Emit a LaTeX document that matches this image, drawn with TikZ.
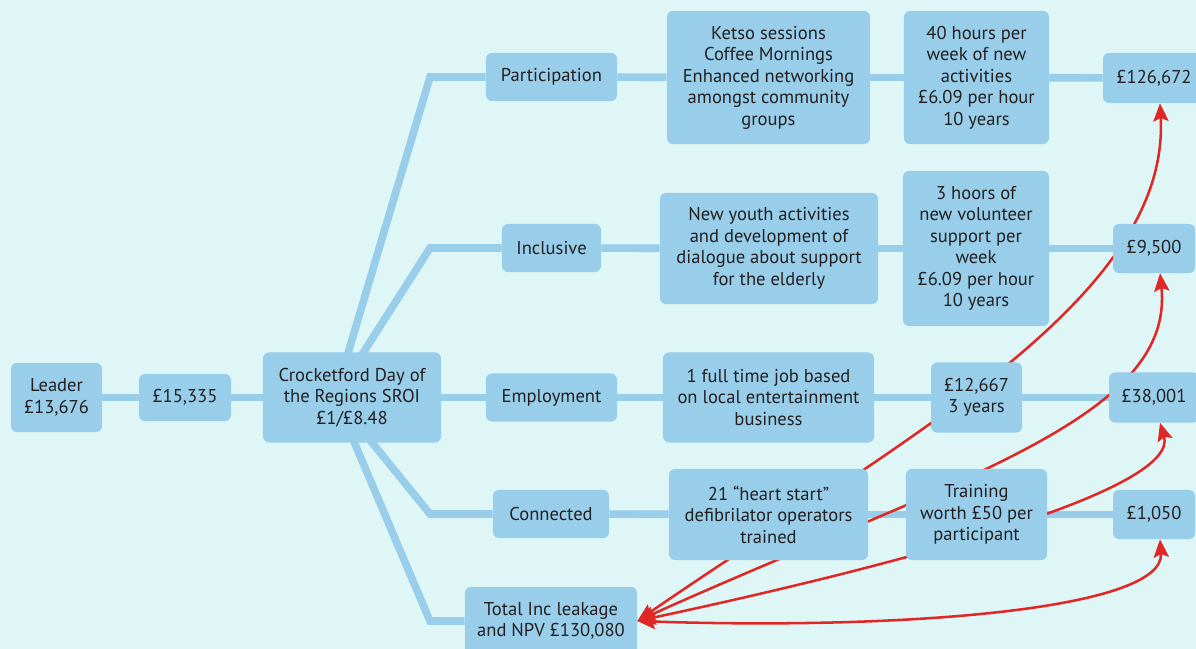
\documentclass[tikz,border=0pt]{standalone}
\usepackage{fontspec}
\setmainfont{PT Sans}
\usetikzlibrary{arrows.meta,backgrounds}
\definecolor{bgcyan}{HTML}{DFF6F6}
\definecolor{boxblue}{HTML}{98CEEA}
\definecolor{linkred}{HTML}{E12626}
\definecolor{inkdark}{HTML}{231F20}

\begin{document}
\begin{tikzpicture}[x=0.025cm,y=-0.025cm,
  box/.style={fill=boxblue,rounded corners=0.15cm,align=center,text=inkdark,inner sep=0pt,
    font=\fontsize{13.2}{15.3}\selectfont},
  link/.style={draw=boxblue,line width=0.19cm},
  ret/.style={draw=linkred,line width=1.8pt,
    {Stealth[length=0.45cm,width=0.38cm,inset=0.08cm]}-{Stealth[length=0.45cm,width=0.38cm,inset=0.08cm]}}]

  \useasboundingbox (0,0) rectangle (1196,649);
  \clip (0,0) rectangle (1196,649);

  % left chain
  \node[box,minimum width=2.275cm,minimum height=1.725cm] (lead) at (56.5,397.5) {Leader\\£13,676};
  \node[box,minimum width=2.3cm,minimum height=1.175cm] (fund) at (185,397.5) {£15,335};
  \node[box,minimum width=4.45cm,minimum height=2.25cm] (sroi) at (352,397.5) {Crocketford Day of\\the Regions SROI\\£1/£8.48};
  \coordinate (hub) at (335,397);
  \coordinate (bend) at (430,0);

  % outcomes
  \node[box,minimum width=3.275cm,minimum height=1.2cm] (part) at (551.5,77) {Participation};
  \node[box,minimum width=2.475cm,minimum height=1.2cm] (incl) at (551.5,248) {Inclusive};
  \node[box,minimum width=3.275cm,minimum height=1.2cm] (empl) at (551.5,397.5) {Employment};
  \node[box,minimum width=2.9cm,minimum height=1.2cm] (conn) at (551,514) {Connected};
  \node[box,minimum width=4.3cm,minimum height=1.7cm] (total) at (551,621) {Total Inc leakage\\and NPV £130,080};

  % activities
  \node[box,minimum width=5.075cm,minimum height=3.325cm] (ketso) at (768.5,77.5) {Ketso sessions\\Coffee Mornings\\Enhanced networking\\amongst community\\groups};
  \node[box,minimum width=5.45cm,minimum height=2.775cm] (youth) at (769,248.5) {New youth activities\\and development of\\dialogue about support\\for the elderly};
  \node[box,minimum width=5.275cm,minimum height=2.25cm] (job) at (768.5,397.5) {1 full time job based\\on local entertainment\\business};
  \node[box,minimum width=4.975cm,minimum height=2.275cm] (heart) at (768.5,514.5) {21 “heart start”\\defibrilator operators\\trained};

  % measures
  \node[box,minimum width=3.625cm,minimum height=3.325cm] (hours) at (976.5,77.5) {40 hours per\\week of new\\activities\\£6.09 per hour\\10 years};
  \node[box,minimum width=3.65cm,minimum height=3.875cm] (volun) at (976,248.5) {3 hoors of\\new volunteer\\support per\\week\\£6.09 per hour\\10 years};
  \node[box,minimum width=2.275cm,minimum height=1.75cm] (wage) at (976.5,397.5) {£12,667\\3 years};
  \node[box,minimum width=3.525cm,minimum height=2.275cm] (train) at (976.5,514.5) {Training\\worth £50 per\\participant};

  % values
  \node[box,minimum width=2.55cm,minimum height=1.25cm] (v1) at (1154,78) {£126,672};
  \node[box,minimum width=2.05cm,minimum height=1.225cm] (v2) at (1154,248.5) {£9,500};
  \node[box,minimum width=2.25cm,minimum height=1.25cm] (v3) at (1154,397.5) {£38,001};
  \node[box,minimum width=2.05cm,minimum height=1.225cm] (v4) at (1154,514.5) {£1,050};

  \begin{pgfonlayer}{background}
    \fill[bgcyan] (0,0) rectangle (1196,649);

    \path[link]
    (lead) edge (fund)
    (fund) edge (sroi)
    (sroi) edge (empl)
    (part) edge (ketso)
    (ketso) edge (hours)
    (hours) edge (v1)
    (incl) edge (youth)
    (youth) edge (volun)
    (volun) edge (v2)
    (empl) edge (job)
    (job) edge (wage)
    (wage) edge (v3)
    (conn) edge (heart)
    (heart) edge (train)
    (train) edge (v4);

    \draw[link] (hub) -- (bend |- part.west) -- (part.west);
    \draw[link] (hub) -- (bend |- incl.west) -- (incl.west);
    \draw[link] (hub) -- (bend |- conn.west) -- (conn.west);
    \draw[link] (hub) -- (bend |- total.west) -- (total.west);

    % returns
    \draw[ret] (total.east) .. controls (900,440) and (1170,300) .. ([xshift=0.15cm]v1.south);
    \draw[ret] (total.east) .. controls (950,480) and (1175,420) .. ([xshift=0.15cm]v2.south);
    \draw[ret] (total.east) .. controls (900,565) and (1180,490) .. ([xshift=0.15cm]v3.south);
    \draw[ret] (total.east) .. controls (900,630) and (1165,610) .. ([xshift=0.15cm]v4.south);
  \end{pgfonlayer}
\end{tikzpicture}
\end{document}
